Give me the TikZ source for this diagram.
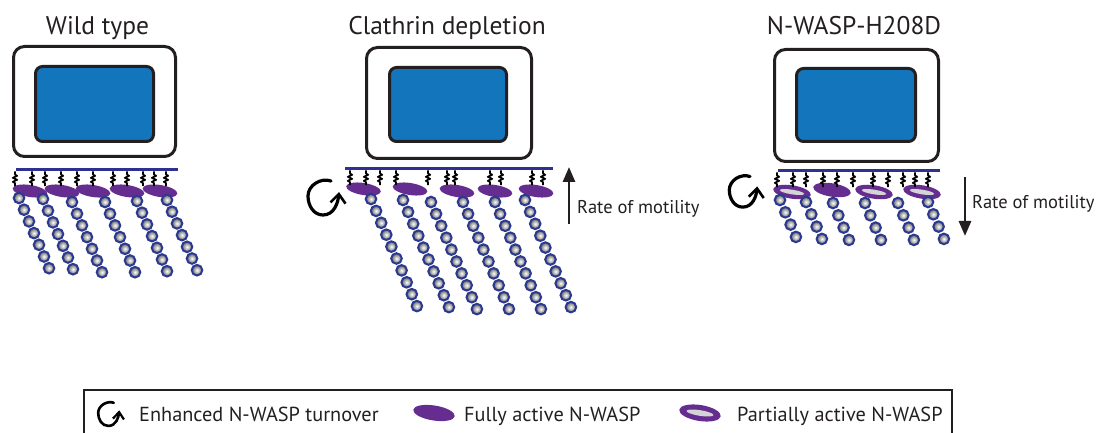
\documentclass[tikz,border=0pt]{standalone}
\usepackage{fontspec}
\setmainfont{PT Sans}
\usetikzlibrary{arrows.meta}
\definecolor{cellblue}{HTML}{1375BB}
\definecolor{membrane}{HTML}{2E3192}
\definecolor{nwasp}{HTML}{662D91}
\definecolor{beadrim}{HTML}{2B3990}
\definecolor{lens}{HTML}{D4D4D6}
\definecolor{ink}{HTML}{231F20}
\tikzset{
  cellbody/.style={draw=ink, line width=3pt, fill=white, rounded corners=11pt},
  nucleus/.style={draw=ink, line width=3pt, fill=cellblue, rounded corners=7pt},
  membraneline/.style={draw=membrane, line width=3pt},
  bead/.style={draw=beadrim, line width=2pt, inner color=white, outer color=black!62},
  tetherline/.style={draw=black, line width=1.7pt, line join=round},
  fullwasp/.style={fill=nwasp},
  lensfill/.style={fill=lens},
  turnarrow/.style={draw=black, line width=3.2pt, line cap=round, -{Straight Barb[length=9pt,width=15pt,line width=2.6pt]}},
  rate/.style={draw=ink, line width=2.8pt, -{Triangle[length=15pt,width=12pt]}},
  paneltitle/.style={font=\fontsize{25.5}{30}\selectfont, text=ink, inner sep=0pt, anchor=base},
  keytext/.style={font=\fontsize{20.3}{24}\selectfont, text=ink, inner sep=0pt, anchor=base west},
  ratetext/.style={font=\fontsize{18.5}{22}\selectfont, text=ink, inner sep=0pt, anchor=base west},
}
% spring-like tether hanging from the membrane
\newcommand\tether[2]{\draw[tetherline] (#1,#2) -- ++(0,3) -- ++(2.2,1.3) -- ++(-4.4,2) -- ++(4.4,2) -- ++(-4.4,2) -- ++(2.2,1.3) -- ++(0,3);}
% actin filament as a chain of beads: x0, y0, dx, dy, count
\newcommand\filament[5]{\foreach \k in {1,...,#5}{\draw[bead] ({#1+#3*(\k-1)},{#2+#4*(\k-1)}) circle[radius=5.3pt];}}
% N-WASP ellipse: x, y, rx, ry
\newcommand\wasp[4]{\fill[fullwasp, rotate around={-9:(#1,#2)}] (#1,#2) ellipse[x radius=#3pt, y radius=#4pt];}
\newcommand\partwasp[4]{\wasp{#1}{#2}{#3}{#4}\fill[lensfill, rotate around={-9:(#1,#2)}] (#1,#2) ellipse[x radius=0.65*#3pt, y radius=0.35*#4pt];}
% hooked turnover arrow: cx, cy, scale, extra style
\newcommand\turnover[4]{\begin{scope}[shift={(#1,#2)}, y=1pt, scale=#3]
  \draw[turnarrow, #4] (10,15) to[out=160,in=90] (-13,0) to[out=-90,in=180] (2,-19) to[out=0,in=-95] (18,4);
\end{scope}}
\begin{document}
\begin{tikzpicture}[x=1pt, y=-1pt]
\useasboundingbox (0,0) rectangle (1104,433);

% ---------- Wild type ----------
\node[paneltitle] (wt-title) at (97.5,35) {Wild type};
\draw[cellbody] (13.5,46.5) rectangle (175.5,156.5);
\draw[nucleus] (35.5,66.5) rectangle (153.5,141.5);
\draw[membraneline] (16,170) -- (178,170);
\foreach \x/\y in {30/191, 62/191, 93/191, 127/191, 160/191} {\wasp{\x}{\y}{17.5}{6}}
\foreach \x in {15,32,45,61,77,93,113,127,143,154,166} {\tether{\x}{171.5}}
\foreach \x/\y in {19/198, 43/199, 72/202, 105/202, 137/201, 167/200} {\filament{\x}{\y}{5}{11.7}{7}}

% ---------- Clathrin depletion ----------
\node[paneltitle] (cl-title) at (447,35) {Clathrin depletion};
\draw[cellbody] (366.5,47.5) rectangle (531.5,158.5);
\draw[nucleus] (389.5,67.5) rectangle (506.5,141.5);
\draw[membraneline] (345,169) -- (553,169);
\foreach \x/\y in {363.5/189, 410/189, 457/191, 495/191, 536/191} {\wasp{\x}{\y}{17.5}{6}}
\foreach \x in {350,366,380,396,428,447,455,490,501,532,543} {\tether{\x}{170.5}}
\foreach \x/\y in {371/199, 403/200, 431/202, 463/202, 495/202, 525/200} {\filament{\x}{\y}{5.1}{11.9}{10}}
\turnover{321}{196}{1}{}
\coordinate (cl-rate-low) at (569,224);
\coordinate (cl-rate-high) at (569,167);
\draw[rate] (cl-rate-low) -- (cl-rate-high);
\node[ratetext] (cl-rate) at (577,214) {Rate of motility};

% ---------- N-WASP-H208D ----------
\node[paneltitle] (hd-title) at (854,35) {N-WASP-H208D};
\draw[cellbody] (774.5,49.5) rectangle (938.5,161.5);
\draw[nucleus] (796.5,68.5) rectangle (915.5,141.5);
\draw[membraneline] (778,171) -- (940,171);
\partwasp{792}{192}{19}{6.7}
\wasp{832}{190}{19}{6.7}
\partwasp{874}{192}{19}{6.7}
\partwasp{922}{192}{19}{6.7}
\foreach \x in {777,793,806,823,837,853,873,888,903,915,928} {\tether{\x}{172.5}}
\foreach \x/\y in {780/200, 806/202, 833/203, 865/203, 898/203, 928/202} {\filament{\x}{\y}{5.3}{12.3}{4}}
\turnover{741}{190}{0.9}{}
\coordinate (hd-rate-high) at (965,177);
\coordinate (hd-rate-low) at (965,236);
\draw[rate] (hd-rate-high) -- (hd-rate-low);
\node[ratetext] (hd-rate) at (972,209) {Rate of motility};

% ---------- key ----------
\draw[ink, line width=2pt] (84,445) -- (84,390) -- (952,390) -- (952,445);
\turnover{107}{413}{0.68}{line width=2.6pt, -{Straight Barb[length=7pt,width=11pt,line width=2.2pt]}}
\node[keytext] (key-turn) at (139,421) {Enhanced N-WASP turnover};
\wasp{434}{413}{21}{7.5}
\node[keytext] (key-full) at (464,421) {Fully active N-WASP};
\partwasp{700}{413}{21}{8}
\node[keytext] (key-part) at (737,421) {Partially active N-WASP};
\end{tikzpicture}
\end{document}
